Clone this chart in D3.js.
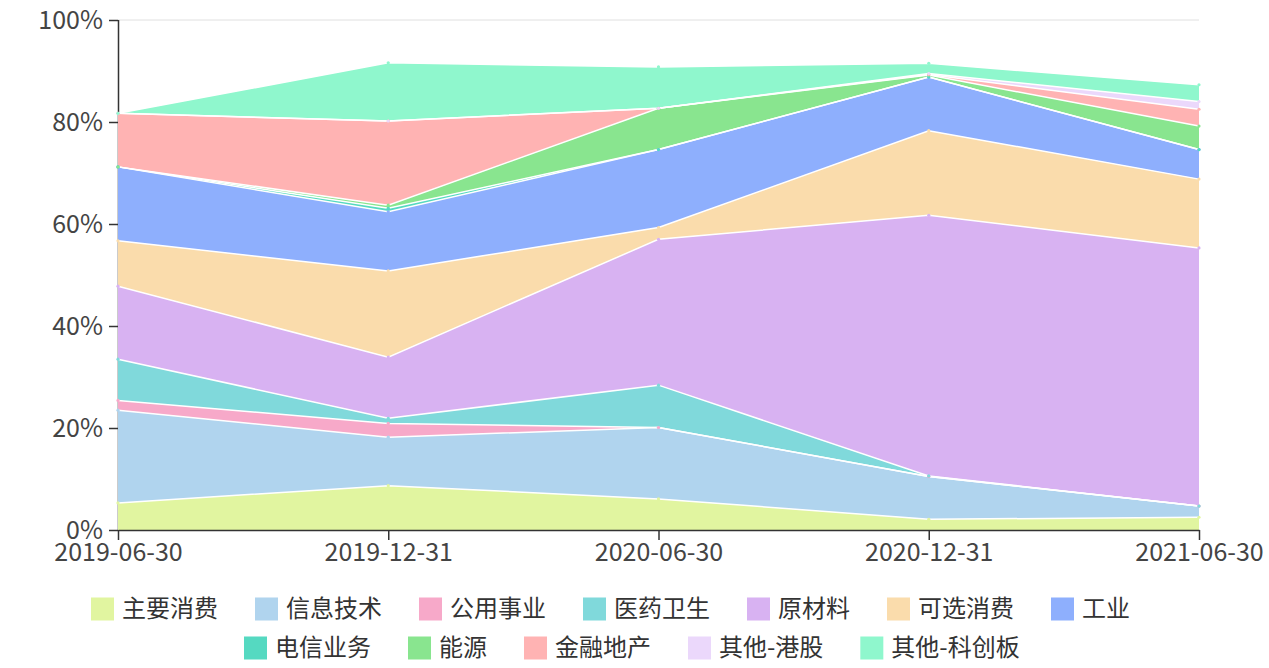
<!DOCTYPE html>
<html><head><meta charset="utf-8">
<script src="https://cdn.jsdelivr.net/npm/d3@7/dist/d3.min.js"></script>
<style>body{margin:0;background:#fff}svg{display:block}text{font-family:"Noto Sans CJK SC","Noto Sans",sans-serif}</style>
</head><body><svg id="c" width="1269" height="668"></svg>
<script>
const categories = ["2019-06-30","2019-12-31","2020-06-30","2020-12-31","2021-06-30"];
const seriesNames = ["主要消费","信息技术","公用事业","医药卫生","原材料","可选消费","工业","电信业务","能源","金融地产","其他-港股","其他-科创板"];
const s_zhuyao   = [5.3, 8.7, 6.1, 2.1, 2.5];
const s_xinxi    = [18.2, 9.5, 14.0, 8.4, 2.2];
const s_gongyong = [1.9, 2.7, 0, 0, 0];
const s_yiyao    = [8.1, 1.0, 8.3, 0.1, 0];
const s_yuancai  = [14.3, 12.0, 28.6, 51.1, 50.6];
const s_kexuan   = [8.9, 16.9, 2.3, 16.6, 13.5];
const s_gongye   = [14.5, 11.6, 15.3, 10.5, 5.8];
const s_dianxin  = [0, 0.7, 0, 0, 0];
const s_nengyuan = [0, 0.6, 8.1, 0.4, 4.6];
const s_jinrong  = [10.5, 16.5, 0, 0.1, 3.3];
const s_ganggu   = [0, 0, 0, 0.2, 1.5];
const s_kechuang = [0, 11.4, 8.1, 2.0, 3.3];
const yTicks = [0, 20, 40, 60, 80, 100];
const colors = ["#e1f5a0","#b0d4ee","#f7a9c9","#80d9db","#d8b2f2","#fadcac","#8eaffd","#55d9c1","#89e58f","#ffb3b3","#ebd8fb","#8ff7cd"];

const seriesValues = [s_zhuyao,s_xinxi,s_gongyong,s_yiyao,s_yuancai,s_kexuan,s_gongye,s_dianxin,s_nengyuan,s_jinrong,s_ganggu,s_kechuang];

const svg = d3.select("#c");
const L = 118, R = 1199, T = 20, B = 530;
const x = d3.scalePoint().domain(categories).range([L, R]).padding(0);
const y = d3.scaleLinear().domain([0, 100]).range([B, T]);

const rows = categories.map((c, i) => {
  const o = {cat: c};
  seriesNames.forEach((n, k) => o[n] = seriesValues[k][i]);
  return o;
});
const stacked = d3.stack().keys(seriesNames)(rows);

// grid
svg.append("g").selectAll("line").data(yTicks.filter(d => d > 0)).join("line")
  .attr("x1", L).attr("x2", R).attr("y1", d => y(d)).attr("y2", d => y(d))
  .attr("stroke", "#e0e0e0").attr("stroke-width", 1);

// y axis line (under areas)
svg.append("line").attr("x1", L + 0.5).attr("x2", L + 0.5).attr("y1", T).attr("y2", B)
  .attr("stroke", "#333").attr("stroke-width", 1.5);

const area = d3.area().x(d => x(d.data.cat)).y0(d => y(d[0])).y1(d => y(d[1]));
const line = d3.line().x(d => x(d.data.cat)).y(d => y(d[1]));

svg.append("g").selectAll("path").data(stacked).join("path")
  .attr("d", area).attr("fill", (d, i) => colors[i]);
svg.append("g").selectAll("path").data(stacked).join("path")
  .attr("d", line).attr("fill", "none").attr("stroke", "#fff").attr("stroke-width", 1.5);
svg.append("g").selectAll("g").data(stacked).join("g")
  .each(function(s, i) {
    d3.select(this).selectAll("circle").data(s).join("circle")
      .attr("cx", d => x(d.data.cat)).attr("cy", d => y(d[1])).attr("r", 1.6)
      .attr("fill", colors[i]);
  });

// y axis ticks / labels
const yAxis = d3.axisLeft(y).tickValues(yTicks).tickFormat(d => d + "%").tickSize(9).tickSizeOuter(0);
const gy = svg.append("g").attr("transform", `translate(${L},0)`).call(yAxis);
gy.select(".domain").remove();
gy.selectAll(".tick line").attr("stroke", "#333").attr("stroke-width", 1.5);
gy.selectAll(".tick text").attr("font-size", 25).attr("fill", "#444").attr("x", -15);

// x axis
const xAxis = d3.axisBottom(x).tickSize(10).tickSizeOuter(0);
const gx = svg.append("g").attr("transform", `translate(0,${B})`).call(xAxis);
gx.select(".domain").attr("stroke", "#333").attr("stroke-width", 1.5);
gx.selectAll(".tick line").attr("stroke", "#333").attr("stroke-width", 1.5);
gx.selectAll(".tick text").attr("font-size", 25).attr("fill", "#444").attr("y", 22).attr("dy", "0.35em");

// legend
const legendRows = [[0,1,2,3,4,5,6],[7,8,9,10,11]];
const rowStart = [91, 244];
const rowY = [609, 648];
legendRows.forEach((r, ri) => {
  let cx = rowStart[ri];
  r.forEach(k => {
    const g = svg.append("g");
    g.append("rect").attr("x", cx).attr("y", rowY[ri] - 11.5).attr("width", 23).attr("height", 23).attr("fill", colors[k]);
    const t = g.append("text").attr("x", cx + 31).attr("y", rowY[ri]).attr("dy", "0.35em")
      .attr("font-size", 24).attr("fill", "#333").text(seriesNames[k]);
    cx += 31 + t.node().getComputedTextLength() + 37;
  });
});
</script></body></html>
